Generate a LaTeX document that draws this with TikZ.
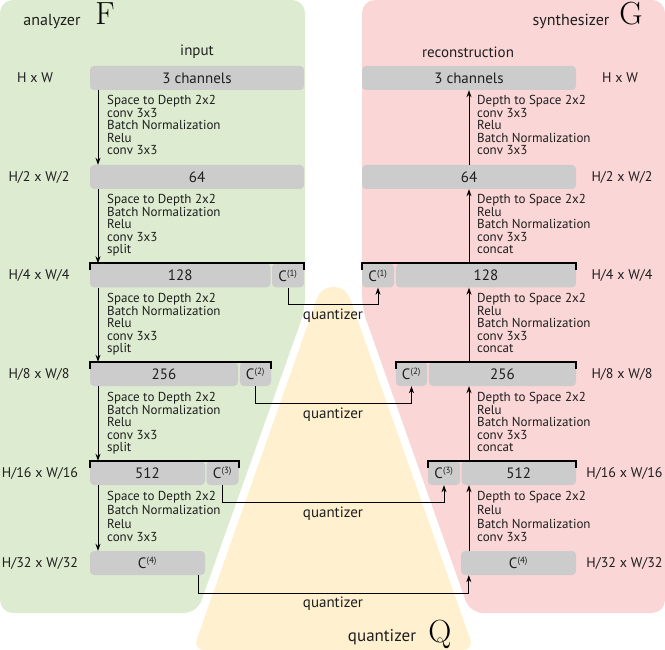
\documentclass[tikz,border=0pt]{standalone}
\usepackage{fontspec}
\setsansfont{PT Sans}
\usetikzlibrary{arrows.meta,calc}
\definecolor{gbg}{RGB}{221,236,208}
\definecolor{pbg}{RGB}{250,214,214}
\definecolor{ybg}{RGB}{255,240,207}
\definecolor{boxc}{RGB}{204,204,204}
\definecolor{txt}{RGB}{30,30,30}
\newcommand{\Csup}[1]{C\textsuperscript{\fontsize{9}{9}\selectfont(#1)}}
\begin{document}
\begin{tikzpicture}[x=1pt,y=-1pt,
  box/.style={fill=boxc, rounded corners=4pt, minimum height=24pt, inner sep=0pt,
              font=\sffamily\fontsize{15}{15}\selectfont, text=txt},
  ops/.style={anchor=north west, align=left, inner sep=0pt, text=txt,
              font=\sffamily\fontsize{13}{12.5}\selectfont},
  opsb/.style={ops, font=\sffamily\fontsize{13}{13.6}\selectfont},
  lbl/.style={font=\sffamily\fontsize{14}{14}\selectfont, text=txt, inner sep=0pt},
  qlbl/.style={font=\sffamily\fontsize{15}{15}\selectfont, text=txt, inner sep=0pt},
  ttl/.style={font=\sffamily\fontsize{16}{16}\selectfont, text=txt, inner sep=0pt, anchor=base},
  bracket/.style={line width=2pt, line cap=butt, draw=black},
  flow/.style={line width=0.9pt, draw=black, -{Stealth[length=7pt,width=5pt]}},
  qline/.style={line width=0.8pt, draw=black, -{Stealth[length=7pt,width=5pt]}},
  big/.style={font=\rmfamily\fontsize{32}{32}\selectfont, inner sep=0pt, text=black, anchor=base},
  ]
\useasboundingbox (0,0) rectangle (665,650);
% backgrounds
\fill[gbg, rounded corners=13pt] (0,0) -- (305,0) -- (305,310) -- (197,613) -- (0,613) -- cycle;
\fill[pbg, rounded corners=13pt] (362,0) -- (665,0) -- (665,613) -- (470,613) -- (362,308) -- cycle;
\fill[ybg, rounded corners=11pt] (321,287) -- (346,287) -- (474,650) -- (193,650) -- cycle;

% titles
\node[ttl] (tA) at (52,26) {analyzer};
\node[big] (tF) at (105,25) {F};
\node[ttl] (tS) at (571,26) {synthesizer};
\node[big] (tG) at (631,24.5) {G};
\node[qlbl] (tin) at (197,52) {input};
\node[qlbl] (trec) at (468,52) {reconstruction};

% left boxes
\node[box, minimum width=214pt] (in) at (197,78) {3 channels};
\node[box, minimum width=214pt] (l64) at (197,177) {64};
\node[box, minimum width=180.5pt] (l128) at (180.25,275.5) {128};
\node[box, minimum width=32pt] (lc1) at (288,275.5) {\Csup{1}};
\node[box, minimum width=148pt] (l256) at (164,374) {256};
\node[box, minimum width=31pt] (lc2) at (255.5,374) {\Csup{2}};
\node[box, minimum width=115pt] (l512) at (147.5,473) {512};
\node[box, minimum width=32pt] (lc3) at (222.5,473) {\Csup{3}};
\node[box, minimum width=115pt] (lc4) at (147.5,563) {\Csup{4}};

% right boxes
\node[box, minimum width=214pt] (out) at (469,78) {3 channels};
\node[box, minimum width=214pt] (r64) at (469,177) {64};
\node[box, minimum width=32pt] (rc1) at (378,275.5) {\Csup{1}};
\node[box, minimum width=180pt] (r128) at (486,275.5) {128};
\node[box, minimum width=31pt] (rc2) at (411.5,374) {\Csup{2}};
\node[box, minimum width=147pt] (r256) at (502.5,374) {256};
\node[box, minimum width=32pt] (rc3) at (444,473) {\Csup{3}};
\node[box, minimum width=114.5pt] (r512) at (518.75,473) {512};
\node[box, minimum width=115pt] (rc4) at (518.5,563) {\Csup{4}};

% brackets
\draw[bracket] ([yshift=-7pt]l128.north west) -- (l128.north west) -- (lc1.north east) -- ([yshift=-7pt]lc1.north east);
\draw[bracket] ([yshift=-7pt]l256.north west) -- (l256.north west) -- (lc2.north east) -- ([yshift=-7pt]lc2.north east);
\draw[bracket] ([yshift=-7pt]l512.north west) -- (l512.north west) -- (lc3.north east) -- ([yshift=-7pt]lc3.north east);
\draw[bracket] ([yshift=-7pt]rc1.north west) -- (rc1.north west) -- (r128.north east) -- ([yshift=-7pt]r128.north east);
\draw[bracket] ([yshift=-7pt]rc2.north west) -- (rc2.north west) -- (r256.north east) -- ([yshift=-7pt]r256.north east);
\draw[bracket] ([yshift=-7pt]rc3.north west) -- (rc3.north west) -- (r512.north east) -- ([yshift=-7pt]r512.north east);

% row size labels
\node[lbl] (sl1) at (35,78) {H x W};
\node[lbl] (sl2) at (39,177) {H/2 x W/2};
\node[lbl] (sl3) at (39,275) {H/4 x W/4};
\node[lbl] (sl4) at (39,374) {H/8 x W/8};
\node[lbl] (sl5) at (40,473) {H/16 x W/16};
\node[lbl] (sl6) at (40,563) {H/32 x W/32};
\node[lbl] (sr1) at (620,78) {H x W};
\node[lbl] (sr2) at (622,177) {H/2 x W/2};
\node[lbl] (sr3) at (622,275) {H/4 x W/4};
\node[lbl] (sr4) at (622,374) {H/8 x W/8};
\node[lbl] (sr5) at (624.5,473) {H/16 x W/16};
\node[lbl] (sr6) at (624.5,563) {H/32 x W/32};

% left flow arrows
\coordinate (lx) at (98,0);
\draw[flow] (lx |- in.south) -- (lx |- l64.north);
\draw[flow] (lx |- l64.south) -- (lx |- l128.north);
\draw[flow] (lx |- l128.south) -- (lx |- l256.north);
\draw[flow] (lx |- l256.south) -- (lx |- l512.north);
\draw[flow] (lx |- l512.south) -- (lx |- lc4.north);

% right flow arrows
\draw[flow] (r64.north) -- (out.south);
\draw[flow] (r128.north -| out.south) -- (r64.south);
\draw[flow] (r256.north -| out.south) -- (r128.south -| out.south);
\draw[flow] (r512.north -| out.south) -- (r256.south -| out.south);
\draw[flow] (rc4.north -| out.south) -- (r512.south -| out.south);

% left ops
\node[ops] (lo1) at (107,95.5) {Space to Depth 2x2\\conv 3x3\\Batch Normalization\\Relu\\conv 3x3};
\node[ops] (lo2) at (107,194.5) {Space to Depth 2x2\\Batch Normalization\\Relu\\conv 3x3\\split};
\node[ops] (lo3) at (107,293.5) {Space to Depth 2x2\\Batch Normalization\\Relu\\conv 3x3\\split};
\node[ops] (lo4) at (107,392.5) {Space to Depth 2x2\\Batch Normalization\\Relu\\conv 3x3\\split};
\node[opsb] (lo5) at (107,491.5) {Space to Depth 2x2\\Batch Normalization\\Relu\\conv 3x3};

% right ops
\node[ops] (ro1) at (477,95.5) {Depth to Space 2x2\\conv 3x3\\Relu\\Batch Normalization\\conv 3x3};
\node[ops] (ro2) at (477,194.5) {Depth to Space 2x2\\Relu\\Batch Normalization\\conv 3x3\\concat};
\node[ops] (ro3) at (477,293.5) {Depth to Space 2x2\\Relu\\Batch Normalization\\conv 3x3\\concat};
\node[ops] (ro4) at (477,392.5) {Depth to Space 2x2\\Relu\\Batch Normalization\\conv 3x3\\concat};
\node[opsb] (ro5) at (477,491.5) {Depth to Space 2x2\\Relu\\Batch Normalization\\conv 3x3};

% quantizer connectors
\draw[qline] (lc1.south) -- ++(0,17) -| (rc1.south);
\draw[qline] (lc2.south) -- ++(0,17) -| (rc2.south);
\draw[qline] (lc3.south) -- ++(0,17) -| (rc3.south);
\coordinate (q4s) at ($(lc4.south east)+(-7,0)$);
\coordinate (q4e) at ($(rc4.south west)+(8,0)$);
\draw[qline] (q4s) -- ++(0,18) -| (q4e);

\node[qlbl] (ql1) at (333,316) {quantizer};
\node[qlbl] (ql2) at (333,415) {quantizer};
\node[qlbl] (ql3) at (333,514) {quantizer};
\node[qlbl] (ql4) at (333,604) {quantizer};

\node[font=\sffamily\fontsize{17}{17}\selectfont, text=txt, inner sep=0pt] (tQt) at (382,637) {quantizer};
\node[big] (tQ) at (440,642) {Q};
\end{tikzpicture}
\end{document}
